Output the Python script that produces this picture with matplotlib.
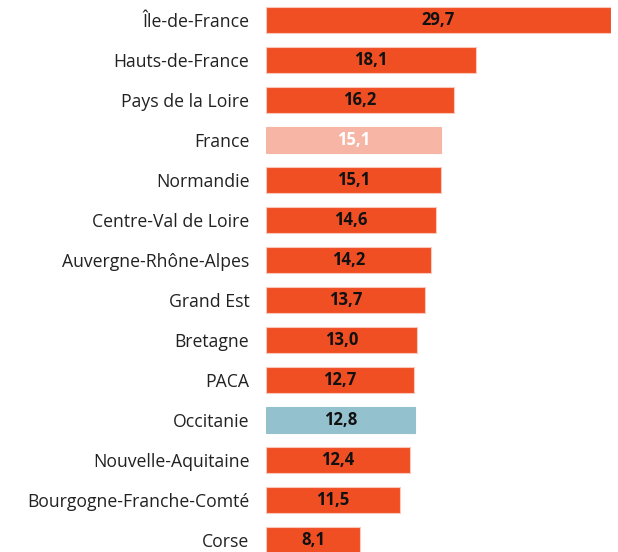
import matplotlib
matplotlib.use("Agg")
import matplotlib.pyplot as plt

regions = ["Île-de-France", "Hauts-de-France", "Pays de la Loire", "France", "Normandie",
           "Centre-Val de Loire", "Auvergne-Rhône-Alpes", "Grand Est", "Bretagne", "PACA",
           "Occitanie", "Nouvelle-Aquitaine", "Bourgogne-Franche-Comté", "Corse"]
values = [29.7, 18.1, 16.2, 15.1, 15.1, 14.6, 14.2, 13.7, 13.0, 12.7, 12.8, 12.4, 11.5, 8.1]

ORANGE = "#F04E23"
PINK = "#F7B6A5"
BLUE = "#93C1CD"
colors = [PINK if r == "France" else BLUE if r == "Occitanie" else ORANGE for r in regions]
text_colors = ["white" if r == "France" else "#111111" for r in regions]

plt.rcParams['font.family'] = ['Open Sans', 'DejaVu Sans']

W, H = 618, 552
fig = plt.figure(figsize=(W / 100, H / 100), dpi=100)
ax = fig.add_axes([266 / W, -8 / H, 345 / W, 560 / H])
y = list(range(len(regions)))
edge = ["#F9C9BC" if c == ORANGE else c for c in colors]
ax.barh(y, values, height=0.65, color=colors, edgecolor=edge, linewidth=0.8)
ax.set_xlim(0, 29.7)
ax.set_ylim(len(regions) - 0.5, -0.5)
for yi, v, tc in zip(y, values, text_colors):
    ax.text(v / 2, yi, f"{v:.1f}".replace(".", ","), ha="center", va="center",
            fontsize=12, fontweight="bold", color=tc)
ax.set_yticks(y)
ax.set_yticklabels(regions, fontsize=12.7, color="#222222")
ax.tick_params(axis="y", length=0, pad=12)
ax.set_xticks([])
for s in ax.spines.values():
    s.set_visible(False)
ax.patch.set_alpha(0)
fig.savefig("out.png", dpi=100)
